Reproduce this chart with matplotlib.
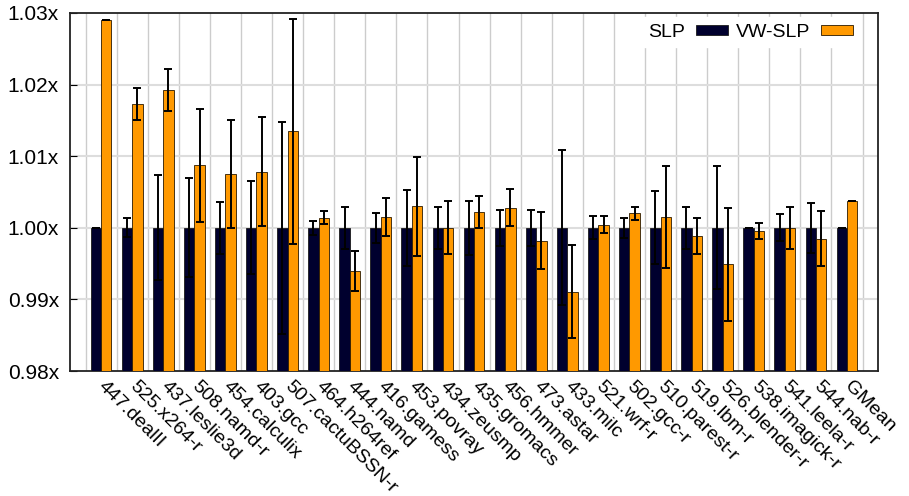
import matplotlib
matplotlib.use("Agg")
import matplotlib.pyplot as plt
import matplotlib.transforms as mtransforms
from matplotlib.patches import Patch
import numpy as np

plt.rcParams['font.family'] = ['Liberation Sans', 'DejaVu Sans']

benchmarks = ["447.dealII", "525.x264-r", "437.leslie3d", "508.namd-r", "454.calculix",
              "403.gcc", "507.cactuBSSN-r", "464.h264ref", "444.namd", "416.gamess",
              "453.povray", "434.zeusmp", "435.gromacs", "456.hmmer", "473.astar",
              "433.milc", "521.wrf-r", "502.gcc-r", "510.parest-r", "519.lbm-r",
              "526.blender-r", "538.imagick-r", "541.leela-r", "544.nab-r", "GMean"]

slp_speedup = [1.000] * 25
slp_err = [0.0000, 0.0013, 0.0073, 0.0069, 0.0036, 0.0065, 0.0148, 0.0010, 0.0029, 0.0021,
           0.0053, 0.0029, 0.0038, 0.0025, 0.0025, 0.0108, 0.0016, 0.0014, 0.0051, 0.0029,
           0.0086, 0.0000, 0.0019, 0.0035, 0.0000]

vwslp_speedup = [1.0290, 1.0173, 1.0192, 1.0087, 1.0075, 1.0078, 1.0135, 1.0014, 0.9940, 1.0015,
                 1.0030, 1.0000, 1.0022, 1.0028, 0.9982, 0.9911, 1.0004, 1.0020, 1.0015, 0.9989,
                 0.9949, 0.9996, 1.0000, 0.9985, 1.0038]
vwslp_err = [0.0000, 0.0022, 0.0029, 0.0079, 0.0075, 0.0076, 0.0157, 0.0009, 0.0028, 0.0026,
             0.0069, 0.0037, 0.0022, 0.0026, 0.0040, 0.0065, 0.0012, 0.0009, 0.0071, 0.0025,
             0.0079, 0.0011, 0.0029, 0.0038, 0.0000]

yticks = [0.98, 0.99, 1.00, 1.01, 1.02, 1.03]
ytick_labels = ["0.98x", "0.99x", "1.00x", "1.01x", "1.02x", "1.03x"]

slp_color = "#00002e"
vw_color = "#ff9900"

fig = plt.figure(figsize=(9.09, 4.96), dpi=100)
ax = fig.add_axes([0.077, 0.252, 0.889, 0.722])

ymin, ymax = 0.98, 1.03
x = np.arange(len(benchmarks))
w = 0.335

slp = np.array(slp_speedup)
vw = np.array(vwslp_speedup)

ax.bar(x - w / 2, slp - ymin, w, bottom=ymin, color=slp_color,
       edgecolor="#1a1a1a", linewidth=0.6, zorder=3)
ax.bar(x + w / 2, vw - ymin, w, bottom=ymin, color=vw_color,
       edgecolor="#2a1a00", linewidth=0.6, zorder=3)

ekw = dict(fmt="none", ecolor="black", elinewidth=1.4, capsize=3, capthick=1.4, zorder=4)
ax.errorbar(x - w / 2, slp, yerr=slp_err, **ekw)
ax.errorbar(x + w / 2, vw, yerr=vwslp_err, **ekw)

ax.set_xlim(-1, len(benchmarks))
ax.set_ylim(ymin, ymax)
ax.set_yticks(yticks)
ax.set_yticklabels(ytick_labels)

# vertical separators between groups, horizontal grid on y ticks
for b in np.arange(-0.5, len(benchmarks), 1.0):
    ax.axvline(b, color="#cccccc", linewidth=1.0, zorder=0)
for yt in yticks[1:-1]:
    ax.axhline(yt, color="#dddddd", linewidth=1.5, zorder=0)

ax.set_xticks(x)
ax.set_xticklabels(benchmarks, rotation=-45, ha="left", va="center",
                   rotation_mode="anchor", fontsize=14)
shift = mtransforms.ScaledTranslation(4 / 100, 0, fig.dpi_scale_trans)
for lbl in ax.get_xticklabels():
    lbl.set_transform(lbl.get_transform() + shift)
ax.tick_params(axis="x", length=0, pad=9)
ax.tick_params(axis="y", direction="in", length=5, labelsize=15, pad=8)

for s in ax.spines.values():
    s.set_linewidth(1.3)
    s.set_color("#222222")

handles = [Patch(facecolor=slp_color, edgecolor="#1a1a1a", linewidth=0.6),
           Patch(facecolor=vw_color, edgecolor="#2a1a00", linewidth=0.6)]
leg = ax.legend(handles, ["SLP", "VW-SLP"], loc="upper right", ncol=2,
                markerfirst=False, frameon=True, fontsize=14,
                bbox_to_anchor=(0.982, 1.0), handlelength=1.65, handleheight=0.4,
                columnspacing=0.4, handletextpad=0.55, borderpad=0.35,
                borderaxespad=0.2, fancybox=False)
leg.get_frame().set_edgecolor("white")
leg.get_frame().set_facecolor("white")
leg.get_frame().set_alpha(1.0)
leg.set_zorder(5)

fig.savefig("out.png", dpi=100)
